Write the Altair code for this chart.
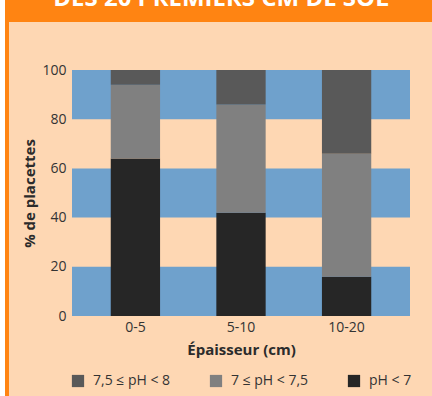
import altair as alt
import pandas as pd

# Soil thickness classes and share of plots (%) per pH class
layers = ["0-5", "5-10", "10-20"]
ph_lt7 = [64, 42, 16]
ph_7_75 = [30, 44, 50]
ph_75_8 = [6, 14, 34]

classes = ["7,5 ≤ pH < 8", "7 ≤ pH < 7,5", "pH < 7"]
class_colors = ["#595959", "#808080", "#262626"]

# Alternating background bands on the value axis
band_lo = [0, 40, 80]
band_hi = [20, 60, 100]
y_ticks = [0, 20, 40, 60, 80, 100]

title_text = "DES 20 PREMIERS CM DE SOL"

FONT = "Open Sans"
W, H = 338, 246
PAD_L, PAD_T = 72, 70
ORANGE = "#FF8412"
PEACH = "#FED7B3"
BLUE = "#6FA1CC"

rows = []
for i, layer in enumerate(layers):
    rows.append({"layer": layer, "cls": "pH < 7", "rank": 0, "pct": ph_lt7[i]})
    rows.append({"layer": layer, "cls": "7 ≤ pH < 7,5", "rank": 1, "pct": ph_7_75[i]})
    rows.append({"layer": layer, "cls": "7,5 ≤ pH < 8", "rank": 2, "pct": ph_75_8[i]})
df = pd.DataFrame(rows)

bands_df = pd.DataFrame({"lo": band_lo, "hi": band_hi})
one = pd.DataFrame({"k": [0]})

yscale = alt.Scale(domain=[0, 100], nice=False)
yaxis = alt.Axis(title="% de placettes", values=y_ticks)

bands = alt.Chart(bands_df).mark_rect(color=BLUE).encode(
    x=alt.value(0),
    x2=alt.value(W),
    y=alt.Y("lo:Q", scale=yscale, axis=yaxis),
    y2="hi:Q",
)

bars = alt.Chart(df).mark_bar().encode(
    x=alt.X(
        "layer:N",
        sort=layers,
        scale=alt.Scale(paddingInner=0.533, paddingOuter=0.367),
        axis=alt.Axis(title="Épaisseur (cm)", labelAngle=0),
    ),
    y=alt.Y("pct:Q", stack="zero", scale=yscale, axis=yaxis),
    color=alt.Color(
        "cls:N",
        scale=alt.Scale(domain=classes, range=class_colors),
        legend=alt.Legend(
            title=None,
            orient="none",
            legendX=-1,
            legendY=304,
            direction="horizontal",
            columns=3,
            symbolType="square",
            symbolSize=150,
            symbolStrokeWidth=0,
            symbolOpacity=1,
            columnPadding=38,
            labelOffset=8,
        ),
    ),
    order=alt.Order("rank:Q", sort="ascending"),
)

# Frame: white margin, orange left border and orange header strip
margin = alt.Chart(one).mark_rect(color="#FFFFFF").encode(
    x=alt.value(-PAD_L), x2=alt.value(-PAD_L + 5),
    y=alt.value(-PAD_T), y2=alt.value(396 - PAD_T),
)
border = alt.Chart(one).mark_rect(color=ORANGE).encode(
    x=alt.value(-PAD_L + 5), x2=alt.value(-PAD_L + 9),
    y=alt.value(-PAD_T), y2=alt.value(396 - PAD_T),
)
header = alt.Chart(one).mark_rect(color=ORANGE).encode(
    x=alt.value(-PAD_L + 5), x2=alt.value(432 - PAD_L),
    y=alt.value(-PAD_T), y2=alt.value(-PAD_T + 22),
)
heading = alt.Chart(one).mark_text(
    text=title_text, color="#FFFFFF", font=FONT, fontWeight="bold",
    fontSize=24, baseline="alphabetic", align="center",
).encode(x=alt.value(221 - PAD_L), y=alt.value(-PAD_T + 6))

chart = (
    alt.layer(margin, border, header, heading, bands, bars)
    .properties(
        width=W,
        height=H,
        background=PEACH,
        padding={"left": PAD_L, "top": PAD_T, "right": 432 - PAD_L - W, "bottom": 396 - PAD_T - H},
        autosize=alt.AutoSizeParams(type="none"),
    )
    .configure_view(stroke=None)
    .configure_axis(
        domain=False,
        ticks=False,
        grid=False,
        labelFont=FONT,
        labelFontSize=14,
        labelColor="#333333",
        titleFont=FONT,
        titleFontSize=15,
        titleFontWeight="bold",
        titleColor="#2b2b2b",
    )
    .configure_axisY(labelPadding=6, titlePadding=4)
    .configure_axisX(labelPadding=4, titlePadding=8)
    .configure_legend(
        labelFont=FONT,
        labelFontSize=14,
        labelColor="#333333",
    )
)

chart.save("out.html", embed_options={"renderer": "svg", "actions": False})
